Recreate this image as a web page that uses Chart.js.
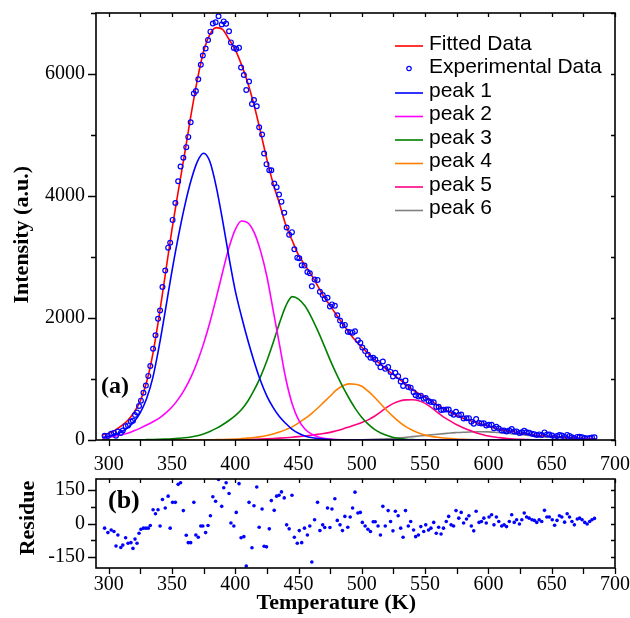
<!DOCTYPE html>
<html><head><meta charset="utf-8">
<script src="https://cdn.jsdelivr.net/npm/chart.js@4.4.1/dist/chart.umd.min.js"></script>
<style>
html,body{margin:0;padding:0;background:#fff;width:630px;height:618px;overflow:hidden;}
#wrapA{position:absolute;left:0;top:0;width:630px;height:480px;}
#wrapB{position:absolute;left:0;top:470px;width:630px;height:148px;}
canvas{display:block;}
</style></head><body>
<div id="wrapA"><canvas id="cA" width="630" height="480"></canvas></div>
<div id="wrapB"><canvas id="cB" width="630" height="148"></canvas></div>
<script>
// ---------- data ----------
const curveTemp = [295,300,305,310,315,320,325,330,335,340,345,350,355,360,365,370,375,380,385,390,395,400,405,410,415,420,425,430,435,440,445,450,455,460,465,470,475,480,485,490,495,500,505,510,515,520,525,530,535,540,545,550,555,560,565,570,575,580,585,590,595,600,605,610,615,620,625,630,635,640,645,650,655,660,665,670,675,680,685];
const fittedData = [80,110,160,230,320,450,640,950,1420,2050,2750,3450,4080,4690,5320,5900,6370,6650,6760,6730,6570,6400,6150,5850,5480,5050,4600,4200,3870,3520,3270,3030,2870,2710,2530,2350,2200,2050,1900,1760,1630,1520,1420,1320,1240,1150,1070,990,910,825,760,700,640,570,510,450,400,355,320,290,260,225,195,170,150,135,115,100,85,75,65,57,50,43,37,31,27,23,20];
const peak1 = [45,60,90,135,200,300,450,680,1030,1550,2150,2770,3330,3830,4250,4560,4700,4560,4150,3600,3000,2450,2020,1630,1280,970,720,530,380,270,175,110,65,40,24,14,8,4,2,0,0,0,0,0,0,0,0,0,0,0,0,0,0,0,0,0,0,0,0,0,0,0,0,0,0,0,0,0,0,0,0,0,0,0,0,0,0,0,0];
const peak2 = [30,45,60,85,110,150,195,245,300,360,440,540,670,830,1030,1280,1580,1930,2330,2750,3150,3450,3590,3560,3400,3100,2680,2120,1560,1000,590,330,180,100,55,30,15,7,3,0,0,0,0,0,0,0,0,0,0,0,0,0,0,0,0,0,0,0,0,0,0,0,0,0,0,0,0,0,0,0,0,0,0,0,0,0,0,0,0];
const peak3 = [0,0,1,1,2,3,4,6,8,11,15,20,27,36,50,70,100,140,190,250,320,400,500,640,820,1040,1300,1600,1920,2200,2350,2310,2200,2020,1800,1560,1310,1080,870,680,510,370,260,175,115,72,42,24,13,7,3,1,0,0,0,0,0,0,0,0,0,0,0,0,0,0,0,0,0,0,0,0,0,0,0,0,0,0,0];
const peak4 = [0,0,0,0,0,0,0,0,0,0,0,0,0,1,1,2,3,4,6,8,11,15,22,30,40,55,75,100,130,170,215,280,350,430,520,620,720,820,890,920,915,880,800,700,590,480,380,290,215,160,115,80,60,45,33,24,17,12,8,5,3,2,0,0,0,0,0,0,0,0,0,0,0,0,0,0,0,0,0];
const peak5 = [0,0,0,0,0,0,0,0,0,0,0,0,0,0,0,0,0,0,0,0,0,5,7,9,12,15,19,24,30,37,45,55,66,78,92,107,125,150,180,215,250,285,330,390,460,540,600,640,658,660,645,600,530,450,370,310,250,200,160,120,90,65,48,35,25,17,11,7,4,2,1,0,0,0,0,0,0,0,0];
const peak6 = [0,0,0,0,0,0,0,0,0,0,0,0,0,0,0,0,0,0,0,0,0,0,0,0,0,0,0,0,0,0,0,0,0,0,0,0,0,1,2,3,4,5,7,10,14,20,27,35,45,55,65,75,85,95,105,115,122,128,132,135,135,133,128,120,110,100,90,80,70,60,52,45,38,32,27,22,18,15,12];

const expTemp = [296.8,299.4,302.0,304.2,305.8,307.3,309.6,311.2,313.4,315.3,317.6,319.2,320.8,322.4,324.0,325.5,327.5,329.4,331.3,332.9,335.1,337.0,339.0,340.6,342.5,344.7,347.0,348.6,350.5,352.7,354.9,356.8,359.0,361.3,362.9,364.8,367.3,368.9,370.8,372.8,374.4,376.6,378.5,380.4,382.3,384.5,386.8,389.3,390.9,392.8,395.1,396.6,398.9,400.8,403.0,404.6,406.8,408.7,410.9,413.2,414.8,417.0,418.9,421.2,422.8,424.7,426.9,428.5,430.8,432.7,434.6,436.5,438.7,440.6,442.6,444.8,446.7,449.0,450.6,452.5,454.7,457.0,458.9,460.5,462.7,465.0,466.9,469.1,470.7,472.9,474.8,476.4,478.7,480.6,482.8,484.7,486.6,488.9,490.8,492.7,494.6,496.9,498.8,500.4,502.6,504.8,506.8,509.0,510.6,512.8,514.7,516.6,518.5,520.8,522.7,524.6,526.5,528.7,530.7,532.6,534.5,536.7,538.6,540.9,542.5,544.7,546.6,548.9,550.5,552.7,554.6,556.8,558.8,560.7,562.6,564.5,566.7,568.6,570.5,572.5,574.4,576.6,578.5,580.4,582.7,584.6,586.5,588.4,590.3,592.6,594.5,596.4,598.3,600.5,602.5,604.4,606.3,608.2,610.5,612.4,614.3,616.5,618.4,620.4,622.3,624.5,626.4,628.3,630.2,632.2,634.4,636.3,638.2,640.1,642.1,644.3,646.2,648.1,650.4,652.3,654.2,656.1,658.0,660.2,662.2,664.1,666.0,667.9,670.2,672.1,674.0,676.1,678.0,680.0,681.8,683.8];
const expIntensity = [70,66,101,116,70,140,116,155,227,239,302,317,410,452,558,645,774,892,1051,1213,1495,1716,1986,2123,2508,2778,3153,3233,3608,3885,4243,4483,4626,4801,4969,5209,5682,5720,5913,6152,6303,6419,6557,6694,6829,6849,6947,6811,6862,6823,6702,6518,6426,6410,6429,6106,5983,5737,5878,5508,5575,5472,5128,5007,4696,4522,4424,4423,4206,4145,4023,3907,3726,3484,3366,3407,3126,2989,2979,2864,2859,2754,2734,2519,2630,2625,2430,2376,2311,2333,2188,2223,2200,2046,1960,1877,1887,1774,1768,1760,1781,1635,1596,1517,1457,1398,1348,1348,1318,1264,1193,1288,1166,1195,1116,1043,1101,1046,958,886,976,870,858,784,733,712,727,677,688,639,624,620,543,545,492,495,499,499,439,414,464,410,419,354,356,358,300,267,343,279,272,274,239,251,249,193,217,188,157,154,139,155,179,139,141,115,128,152,128,117,104,96,83,92,80,125,92,89,73,46,65,83,75,49,84,67,45,28,51,53,45,31,23,32,39,44];
const residue = [-21,-41,-29,-36,-101,-52,-108,-97,-64,-89,-86,-112,-70,-89,-44,-26,-21,-21,-21,-9,62,44,62,-11,108,70,123,-21,95,95,176,183,58,-53,-86,-86,95,-52,-62,-11,-11,-41,-9,35,120,100,198,77,161,183,135,2,-11,50,179,-64,-59,-191,95,-109,80,164,-17,65,-102,-105,-24,103,59,123,127,142,115,-6,-24,127,-62,-89,-32,-86,-21,-52,-11,-173,17,95,-32,-6,-18,70,-18,65,111,14,-6,-32,32,-17,29,70,141,47,50,5,-11,-26,-36,8,8,-11,-52,77,-11,58,9,-33,55,35,-21,-62,58,-11,9,-29,-59,-52,-14,-36,-6,-29,-21,5,-44,-17,-47,-21,9,32,-6,-11,58,24,50,2,20,35,-11,-33,55,5,9,24,2,29,39,-6,29,9,-11,-6,-14,9,39,5,17,-2,17,47,29,24,17,14,5,17,9,59,29,29,17,-8,14,35,29,6,44,29,9,-6,20,24,17,5,-2,9,17,23];

const tempTicks = [300,325,350,375,400,425,450,475,500,525,550,575,600,625,650,675,700];
const tempLabels = [300,350,400,450,500,550,600,650,700];
const intensityTicks = [0,1000,2000,3000,4000,5000,6000,7000];
const intensityLabels = [0,2000,4000,6000];
const residueTicks = [-150,-75,0,75,150];
const residueLabels = [-150,0,150];

// ---------- helpers ----------
const SERIF = "'Liberation Serif','Times New Roman',serif";
const SANS = "'Liberation Sans',Arial,sans-serif";
Chart.defaults.font.family = SERIF;
Chart.defaults.color = '#000';
const pts = (xs, ys) => xs.map((x, i) => ({x: x, y: ys[i]}));

function curve(label, data, color, order) {
  return {type: 'line', label: label, data: pts(curveTemp, data), borderColor: color, backgroundColor: color,
    borderWidth: 1.6, pointRadius: 0, pointHoverRadius: 0, fill: false, cubicInterpolationMode: 'monotone', order: order};
}

function noPadX(s, h) { s.height = h; s.paddingLeft = 0; s.paddingRight = 0; s.paddingTop = 0; s.paddingBottom = 0; }
function noPadY(s, w) { s.width = w; s.paddingLeft = 0; s.paddingRight = 0; s.paddingTop = 0; s.paddingBottom = 0; }

const framePlugin = {
  id: 'frame',
  afterDatasetsDraw(chart) {
    const {ctx, chartArea: a, scales} = chart;
    const xs = scales.x, ys = scales.y;
    ctx.save();
    ctx.strokeStyle = '#000';
    ctx.lineWidth = 1.6;
    ctx.strokeRect(a.left, a.top, a.right - a.left, a.bottom - a.top);
    ctx.lineWidth = 1.3;
    ctx.beginPath();
    xs.ticks.forEach(t => {
      const x = Math.round(xs.getPixelForValue(t.value)) + 0.5;
      ctx.moveTo(x, a.bottom); ctx.lineTo(x, a.bottom + 6);
      ctx.moveTo(x, a.top); ctx.lineTo(x, a.top + 4);
    });
    ys.ticks.forEach(t => {
      const y = Math.round(ys.getPixelForValue(t.value)) + 0.5;
      const major = t.label !== '';
      ctx.moveTo(a.left, y); ctx.lineTo(a.left - (major ? 8 : 5), y);
      ctx.moveTo(a.right, y); ctx.lineTo(a.right - 4, y);
    });
    ctx.stroke();
    ctx.restore();
  }
};

const textPlugin = {
  id: 'panelText',
  afterDraw(chart, args, opts) {
    const ctx = chart.ctx;
    ctx.save();
    ctx.fillStyle = '#000';
    ctx.textBaseline = 'middle';
    ctx.textAlign = 'left';
    ctx.font = 'bold ' + opts.size + 'px ' + SERIF;
    ctx.fillText(opts.text, opts.x, opts.y);
    ctx.restore();
  }
};

const legendPlugin = {
  id: 'boxLegend',
  afterDraw(chart) {
    const ctx = chart.ctx;
    ctx.save();
    ctx.font = '21px ' + SANS;
    ctx.textBaseline = 'middle';
    ctx.textAlign = 'left';
    chart.data.datasets.forEach((ds, i) => {
      const y = 44 + i * 23.5;
      if (ds.showLine === false) {
        ctx.strokeStyle = ds.borderColor; ctx.lineWidth = 1.2;
        ctx.beginPath(); ctx.arc(409, y + 1, 2.2, 0, Math.PI * 2); ctx.stroke();
      } else {
        ctx.strokeStyle = ds.borderColor; ctx.lineWidth = 1.6;
        ctx.beginPath(); ctx.moveTo(395, y + 2); ctx.lineTo(423, y + 2); ctx.stroke();
      }
      ctx.fillStyle = '#000';
      ctx.fillText(ds.label, 429, y);
    });
    ctx.restore();
  }
};

function xScale(padding, showTitle, h) {
  return {
    type: 'linear', min: 290, max: 700,
    afterBuildTicks: s => { s.ticks = tempTicks.map(v => ({value: v})); },
    afterFit: s => noPadX(s, h),
    ticks: {callback: v => tempLabels.includes(v) ? String(v) : '', font: {size: 20}, padding: padding, maxRotation: 0, autoSkip: false},
    grid: {display: false}, border: {display: false},
    title: showTitle ? {display: true, text: 'Temperature (K)       ', font: {size: 22, weight: 'bold'}, padding: {top: 0, bottom: 1}} : {display: false}
  };
}

// ---------- top chart ----------
new Chart(document.getElementById('cA'), {
  type: 'line',
  data: {
    datasets: [
      curve('Fitted Data', fittedData, '#ff0000', 1),
      {type: 'line', label: 'Experimental Data', data: pts(expTemp, expIntensity), showLine: false,
        pointStyle: 'circle', pointRadius: 2.4, pointBorderWidth: 1.2, borderColor: '#0000ff',
        pointBorderColor: '#0000ff', pointBackgroundColor: 'rgba(255,255,255,0)', backgroundColor: 'rgba(255,255,255,0)', order: 0},
      curve('peak 1', peak1, '#0000ff', 2),
      curve('peak 2', peak2, '#ff00ff', 3),
      curve('peak 3', peak3, '#008000', 4),
      curve('peak 4', peak4, '#ff8000', 5),
      curve('peak 5', peak5, '#ff0080', 6),
      curve('peak 6', peak6, '#808080', 7)
    ]
  },
  options: {
    responsive: false, animation: false, devicePixelRatio: 1, events: [],
    layout: {padding: {left: 0, right: 15, top: 13, bottom: 0}},
    plugins: {legend: {display: false}, tooltip: {enabled: false},
      panelText: {text: '(a)', x: 101, y: 387, size: 24}},
    scales: {
      x: xScale(5, false, 40),
      y: {
        min: 0, max: 7000,
        afterBuildTicks: s => { s.ticks = intensityTicks.map(v => ({value: v})); },
        afterFit: s => noPadY(s, 96),
        ticks: {callback: v => intensityLabels.includes(v) ? String(v) : '', font: {size: 20}, padding: 3, autoSkip: false},
        grid: {display: false}, border: {display: false},
        title: {display: true, text: 'Intensity (a.u.)   ', font: {size: 22, weight: 'bold'}, padding: {top: 9, bottom: 0}}
      }
    }
  },
  plugins: [framePlugin, legendPlugin, textPlugin]
});

// ---------- residue chart ----------
new Chart(document.getElementById('cB'), {
  type: 'scatter',
  data: {
    datasets: [{label: 'Residue', data: pts(expTemp, residue), pointRadius: 1.8, pointBorderWidth: 0,
      backgroundColor: '#0000ff', borderColor: '#0000ff'}]
  },
  options: {
    responsive: false, animation: false, devicePixelRatio: 1, events: [],
    layout: {padding: {left: 0, right: 15, top: 9, bottom: 0}},
    plugins: {legend: {display: false}, tooltip: {enabled: false},
      panelText: {text: '(b)', x: 108, y: 31, size: 26}},
    scales: {
      x: xScale(-3, true, 50),
      y: {
        min: -200, max: 200,
        afterBuildTicks: s => { s.ticks = residueTicks.map(v => ({value: v})); },
        afterFit: s => noPadY(s, 96),
        ticks: {callback: v => residueLabels.includes(v) ? String(v) : '', font: {size: 20}, padding: 3, autoSkip: false},
        grid: {display: false}, border: {display: false},
        title: {display: true, text: '  Residue', font: {size: 22, weight: 'bold'}, padding: {top: 15, bottom: 0}}
      }
    }
  },
  plugins: [framePlugin, textPlugin]
});
</script>
</body></html>
